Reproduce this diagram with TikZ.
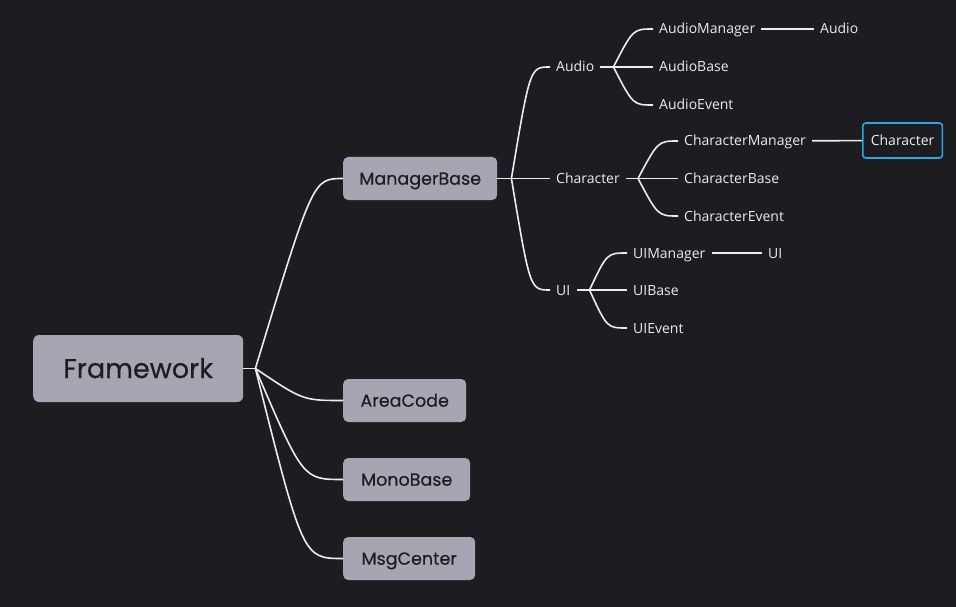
\documentclass[tikz,border=0pt]{standalone}
\usepackage{fontspec}
\usetikzlibrary{calc}
\newfontfamily\boxfont[FakeBold=0.35]{Poppins}
\newfontfamily\leaffont{Open Sans}
\definecolor{canvas}{HTML}{1D1C21}
\definecolor{topicgray}{HTML}{A6A5B1}
\definecolor{topictext}{HTML}{1D1C21}
\definecolor{branchwhite}{HTML}{ECECEC}
\definecolor{focusblue}{HTML}{2AA6E6}
\begin{document}
\begin{tikzpicture}[x=1pt, y=-1pt,
  topic/.style={rectangle, rounded corners=5pt, fill=topicgray, text=topictext, font=\boxfont\fontsize{17.5}{20}\selectfont, minimum height=43pt, inner sep=0pt, text height=12.4pt, text depth=0pt, anchor=west},
  leaf/.style={rectangle, draw=none, text=branchwhite, font=\leaffont\fontsize{14}{16}\selectfont, inner xsep=6pt, inner ysep=3pt, text height=10pt, text depth=0pt, anchor=west},
  focus/.style={rectangle, draw=focusblue, line width=1.6pt, rounded corners=3pt, text=branchwhite, font=\leaffont\fontsize{14}{16}\selectfont, minimum height=35pt, inner xsep=8pt, text height=10pt, text depth=0pt, anchor=west},
  branch/.style={draw=branchwhite, line width=1.6pt}]
\fill[canvas] (0,0) rectangle (956,607);
\useasboundingbox (0,0) rectangle (956,607);
%%%%%%%%%%%%%%%%%%%%%%%%%%%%%%% Root and first level
\node[topic, minimum width=210pt, rounded corners=6pt, font=\boxfont\fontsize{27}{30}\selectfont, text height=19pt, minimum height=67pt](fw) at (33,368.5){Framework};
\node[topic, minimum width=154pt](mgrBase) at (343,178.5){ManagerBase};
\node[topic, minimum width=123pt](areaCode) at (343,400.5){AreaCode};
\node[topic, minimum width=127pt](monoBase) at (343,479.5){MonoBase};
\node[topic, minimum width=132pt](msgCenter) at (343,558.5){MsgCenter};
\draw[branch] (fw.east) -- ++(12,0) coordinate (fwFork);
\draw[branch] (fwFork) .. controls ($(mgrBase.west)+(-30,0)$) .. (mgrBase.west);
\draw[branch] (fwFork) .. controls ($(areaCode.west)+(-40,0)$) .. (areaCode.west);
\draw[branch] (fwFork) .. controls ($(monoBase.west)+(-40,0)$) .. (monoBase.west);
\draw[branch] (fwFork) .. controls ($(msgCenter.west)+(-40,0)$) .. (msgCenter.west);
%%%%%%%%%%%%%%%%%%%%%%%%%%%%%%% ManagerBase subtree
\node[leaf](audio) at (550,67){Audio};
\node[leaf](character) at (550,178.5){Character};
\node[leaf](ui) at (550,290){UI};
\draw[branch] (mgrBase.east) -- ++(14,0) coordinate (mgrFork);
\draw[branch] (mgrFork) .. controls ($(audio.west)+(-20,0)$) .. (audio.west);
\draw[branch] (mgrFork) -- (character.west);
\draw[branch] (mgrFork) .. controls ($(ui.west)+(-20,0)$) .. (ui.west);
%%%%%%%%%%%%%%%%%%%%%%%%%%%%%%% Audio
\node[leaf](audioMgr) at (653,29){AudioManager};
\node[leaf](audioBase) at (653,67){AudioBase};
\node[leaf](audioEvent) at (653,105){AudioEvent};
\node[leaf](audioObj) at (814,29){Audio};
\draw[branch] (audio.east) -- ++(13,0) coordinate (audioFork);
\draw[branch] (audioFork) .. controls ($(audioMgr.west)+(-20,0)$) .. (audioMgr.west);
\draw[branch] (audioFork) -- (audioBase.west);
\draw[branch] (audioFork) .. controls ($(audioEvent.west)+(-20,0)$) .. (audioEvent.west);
\draw[branch] (audioMgr) -- (audioObj);
%%%%%%%%%%%%%%%%%%%%%%%%%%%%%%% Character
\node[leaf](charMgr) at (678,141){CharacterManager};
\node[leaf](charBase) at (678,178.5){CharacterBase};
\node[leaf](charEvent) at (678,216){CharacterEvent};
\node[focus](charObj) at (862,140.5){Character};
\draw[branch] (character.east) -- ++(12,0) coordinate (charFork);
\draw[branch] (charFork) .. controls ($(charMgr.west)+(-20,0)$) .. (charMgr.west);
\draw[branch] (charFork) -- (charBase.west);
\draw[branch] (charFork) .. controls ($(charEvent.west)+(-20,0)$) .. (charEvent.west);
\draw[branch] (charMgr) -- (charObj);
%%%%%%%%%%%%%%%%%%%%%%%%%%%%%%% UI
\node[leaf](uiMgr) at (627,253){UIManager};
\node[leaf](uiBase) at (627,290){UIBase};
\node[leaf](uiEvent) at (627,328){UIEvent};
\node[leaf](uiObj) at (762,253){UI};
\draw[branch] (ui.east) -- ++(13,0) coordinate (uiFork);
\draw[branch] (uiFork) .. controls ($(uiMgr.west)+(-20,0)$) .. (uiMgr.west);
\draw[branch] (uiFork) -- (uiBase.west);
\draw[branch] (uiFork) .. controls ($(uiEvent.west)+(-20,0)$) .. (uiEvent.west);
\draw[branch] (uiMgr) -- (uiObj);
\end{tikzpicture}
\end{document}
